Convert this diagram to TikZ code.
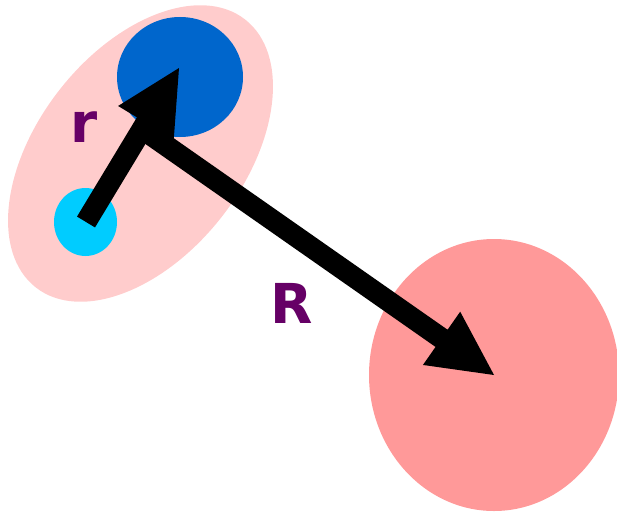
\documentclass[tikz,border=0pt]{standalone}
\usepackage{fontspec}
\newfontfamily\labelfont{DejaVu Sans}
\usetikzlibrary{calc,shapes.geometric}
\definecolor{lightpink}{HTML}{FFCCCC}
\definecolor{bigpink}{HTML}{FF9999}
\definecolor{darkblue}{HTML}{0066CC}
\definecolor{skyblue}{HTML}{00CCFF}
\definecolor{plum}{HTML}{660066}
\tikzset{
  blob/.style={ellipse, inner sep=0pt, draw=none},
  lbl/.style={text=plum, font=\labelfont\bfseries\fontsize{55}{55}\selectfont, inner sep=0pt, anchor=base},
}
\newcommand{\fatarrow}[2]{%
  \fill[black] ($(#1)!10.5pt!90:(#2)$) -- ($($(#2)!64pt!(#1)$)!10.5pt!90:(#2)$)
    -- ($($(#2)!64pt!(#1)$)!32.5pt!90:(#2)$) -- (#2)
    -- ($($(#2)!64pt!(#1)$)!32.5pt!-90:(#2)$) -- ($($(#2)!64pt!(#1)$)!10.5pt!-90:(#2)$)
    -- ($(#1)!10.5pt!-90:(#2)$) -- cycle;}
\begin{document}
\begin{tikzpicture}[x=1pt,y=-1pt]
\useasboundingbox (0,0) rectangle (617,511);
\clip (0,0) rectangle (617,511);
\node[blob, fill=lightpink, rotate=52, minimum width=340pt, minimum height=206pt] (mol) at (140.5,153.5) {};
\node[blob, fill=darkblue, minimum width=126pt, minimum height=120pt] (big) at (180,77) {};
\node[blob, fill=skyblue, minimum width=63pt, minimum height=68pt] (small) at (85.5,222) {};
\node[blob, fill=bigpink, minimum width=250pt, minimum height=272pt] (far) at (494,375) {};
\coordinate (rtail) at (86,222);
\coordinate (rtip) at (179,68);
\coordinate (Rtail) at (148,133);
\coordinate (Rtip) at (494,375);
\fatarrow{Rtail}{Rtip}
\fatarrow{rtail}{rtip}
\node[lbl] (rlabel) at (84,142) {r};
\node[lbl] (Rlabel) at (291.5,323) {R};
\end{tikzpicture}
\end{document}
